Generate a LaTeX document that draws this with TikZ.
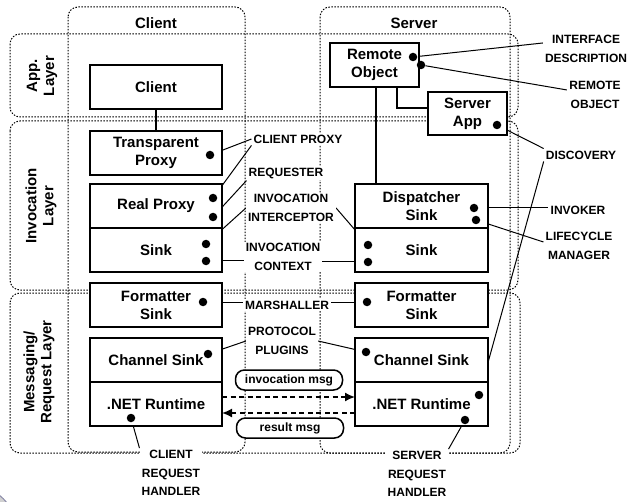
\documentclass[tikz,border=0pt]{standalone}
\usepackage{fontspec}
\setmainfont{Liberation Sans}
\usetikzlibrary{positioning,arrows.meta}
\pgfdeclarelayer{frames}
\pgfdeclarelayer{wires}
\pgfsetlayers{frames,wires,main}
\tikzset{
    unit/.style={
           rectangle,
           draw, line width=1.6pt,
           fill=white,
           outer sep=0pt,
           minimum width=132pt, minimum height=44pt,
           align=center,
           font=\fontsize{15}{18}\selectfont\bfseries,
           },
}
\tikzset{
    spot/.style={
           circle,
           fill,
           inner sep=0pt,
           minimum size=8.5pt,
           },
}
\tikzset{
    note/.style={
           fill=white,
           inner sep=2pt,
           align=center,
           font=\fontsize{12}{18.5}\selectfont\bfseries,
           },
}
\tikzset{
    title/.style={
           align=center,
           font=\fontsize{15}{17}\selectfont\bfseries,
           },
}
\tikzset{
    zone/.style={
           draw=black,
           line width=1pt,
           dash pattern=on 1.5pt off 1.5pt,
           rounded corners=10pt,
           },
}
\tikzset{
    msg/.style={
           draw, line width=1.5pt,
           rounded corners=9pt,
           fill=white,
           minimum width=107pt, minimum height=20pt,
           inner sep=0pt,
           font=\fontsize{12}{14}\selectfont\bfseries,
           },
}
\tikzset{
    wire/.style={line width=1pt},
    link/.style={line width=1.6pt},
    flow/.style={line width=1.6pt, dash pattern=on 5pt off 3.5pt},
}
\begin{document}
\begin{tikzpicture}[x=1pt,y=-1pt]
\useasboundingbox (0,0) rectangle (628,502);
\draw[fill=black!18, draw=blue!25!black!45, line width=1pt] (-25,527) circle[radius=40pt];
\begin{pgfonlayer}{frames}
\draw[zone] (10,34) rectangle (518,117);
\draw[zone] (10,121) rectangle (518,290);
\draw[zone] (10,293) rectangle (520,453);
\draw[zone] (68,7) rectangle (245,452);
\draw[zone] (320,7) rectangle (510,453);
\end{pgfonlayer}
\node[title] (chead) at (156,23) {Client};
\node[title] (shead) at (414,23) {Server};
\node[title, rotate=90] (lapp) at (42,76) {App.\\Layer};
\node[title, rotate=90] (linv) at (41,206) {Invocation\\Layer};
\node[title, rotate=90] (lmsg) at (39,372) {Messaging/\\Request Layer};
\node[unit] (client) at (156,87) {Client};
\node[unit, below=22pt of client] (tproxy) {Transparent\\Proxy};
\node[unit, below=9pt of tproxy] (rproxy) {Real Proxy};
\node[unit, below=0pt of rproxy] (csink) {Sink};
\node[unit, below=11pt of csink] (cfmt) {Formatter\\Sink};
\node[unit, below=11pt of cfmt] (cchan) {Channel Sink};
\node[unit, below=0pt of cchan] (crt) {.NET Runtime};
\node[unit, minimum width=89pt] (remote) at (374.5,65) {Remote\\Object};
\node[unit, minimum width=79pt, minimum height=43pt] (sapp) at (467.5,113.5) {Server\\App};
\node[unit, minimum width=133pt] (disp) at (421.5,206) {Dispatcher\\Sink};
\node[unit, minimum width=133pt, below=0pt of disp] (ssink) {Sink};
\node[unit, minimum width=133pt, below=11pt of ssink] (sfmt) {Formatter\\Sink};
\node[unit, minimum width=133pt, below=11pt of sfmt] (schan) {Channel Sink};
\node[unit, minimum width=133pt, below=0pt of schan] (srt) {.NET Runtime};
\begin{pgfonlayer}{wires}
\draw[link] (client) -- (tproxy);
\draw[link] ([xshift=1.5pt]remote.south) -- ([xshift=1.5pt]remote.south |- disp.north);
\draw[link] ([xshift=22.5pt]remote.south) |- ([yshift=5.5pt]sapp.west);
\end{pgfonlayer}
\node[spot] (tp1) at (210,155) {};
\node[spot] (rp1) at (213,198) {};
\node[spot] (rp2) at (213,217) {};
\node[spot] (cs1) at (206,244) {};
\node[spot] (cs2) at (206,261) {};
\node[spot] (cf1) at (203,302) {};
\node[spot] (cc1) at (208,354) {};
\node[spot] (cr1) at (131,418) {};
\node[spot] (ro1) at (413,57) {};
\node[spot] (ro2) at (421,65) {};
\node[spot] (sa1) at (497,125) {};
\node[spot] (dp1) at (474,208) {};
\node[spot] (dp2) at (476,220) {};
\node[spot] (ss1) at (368,245) {};
\node[spot] (ss2) at (368,262) {};
\node[spot] (sf1) at (367,302) {};
\node[spot] (sc1) at (366,352) {};
\node[spot] (sr1) at (479,395) {};
\node[spot] (sr2) at (465,420) {};
\node[note] (cproxy) at (298,139) {CLIENT PROXY};
\node[note] (reqr) at (286,173) {REQUESTER};
\node[note] (icpt) at (291,208) {INVOCATION\\INTERCEPTOR};
\node[note] (ctx) at (283,257) {INVOCATION\\CONTEXT};
\node[note] (mars) at (287,305) {MARSHALLER};
\node[note] (proto) at (282,341) {PROTOCOL\\PLUGINS};
\node[msg] (imsg) at (289,380) {invocation msg};
\node[msg] (rmsg) at (290,428) {result msg};
\node[note] (crh) at (171,473) {CLIENT\\REQUEST\\HANDLER};
\node[note] (srh) at (417,474) {SERVER\\REQUEST\\HANDLER};
\node[note] (ifd) at (586,49) {INTERFACE\\DESCRIPTION};
\node[note] (robj) at (595,95) {REMOTE\\OBJECT};
\node[note] (disc) at (581,155) {DISCOVERY};
\node[note] (invk) at (578,210) {INVOKER};
\node[note] (lcm) at (579,246) {LIFECYCLE\\MANAGER};
\begin{pgfonlayer}{wires}
\path (tp1) edge[wire] (cproxy.west);
\path (rp1) edge[wire] (cproxy.south west);
\path (rp2) edge[wire] (reqr.south west);
\path (cs1) edge[wire] (icpt.west);
\path (cs2) edge[wire] (cs2 -| ctx.west);
\path (cf1) edge[wire] (cf1 -| mars.west);
\path (cc1) edge[wire] (proto.west);
\path (cr1) edge[wire] (crh.north west);
\path (ss1) edge[wire] (icpt.east);
\path (ss2) edge[wire] (ss2 -| ctx.east);
\path (sf1) edge[wire] (sf1 -| mars.east);
\path (sc1) edge[wire] (proto.east);
\path (sr2) edge[wire] (srh.north east);
\path (sr1) edge[wire] (disc.south west);
\path (ro1) edge[wire] ([yshift=6pt]ifd.west);
\path (ro2) edge[wire] ([yshift=5pt]robj.west);
\path (sa1) edge[wire] (disc.north west);
\path (dp1) edge[wire] (dp1 -| invk.west);
\path (dp2) edge[wire] ([yshift=4pt]lcm.west);
\end{pgfonlayer}
\draw[flow, -{Latex[length=10pt,width=9pt]}] ([yshift=7pt]crt.east) -- ([yshift=7pt]srt.west);
\draw[flow, -{Latex[length=10pt,width=9pt]}] ([yshift=-9pt]srt.west) -- ([yshift=-9pt]crt.east);
\end{tikzpicture}
\end{document}
